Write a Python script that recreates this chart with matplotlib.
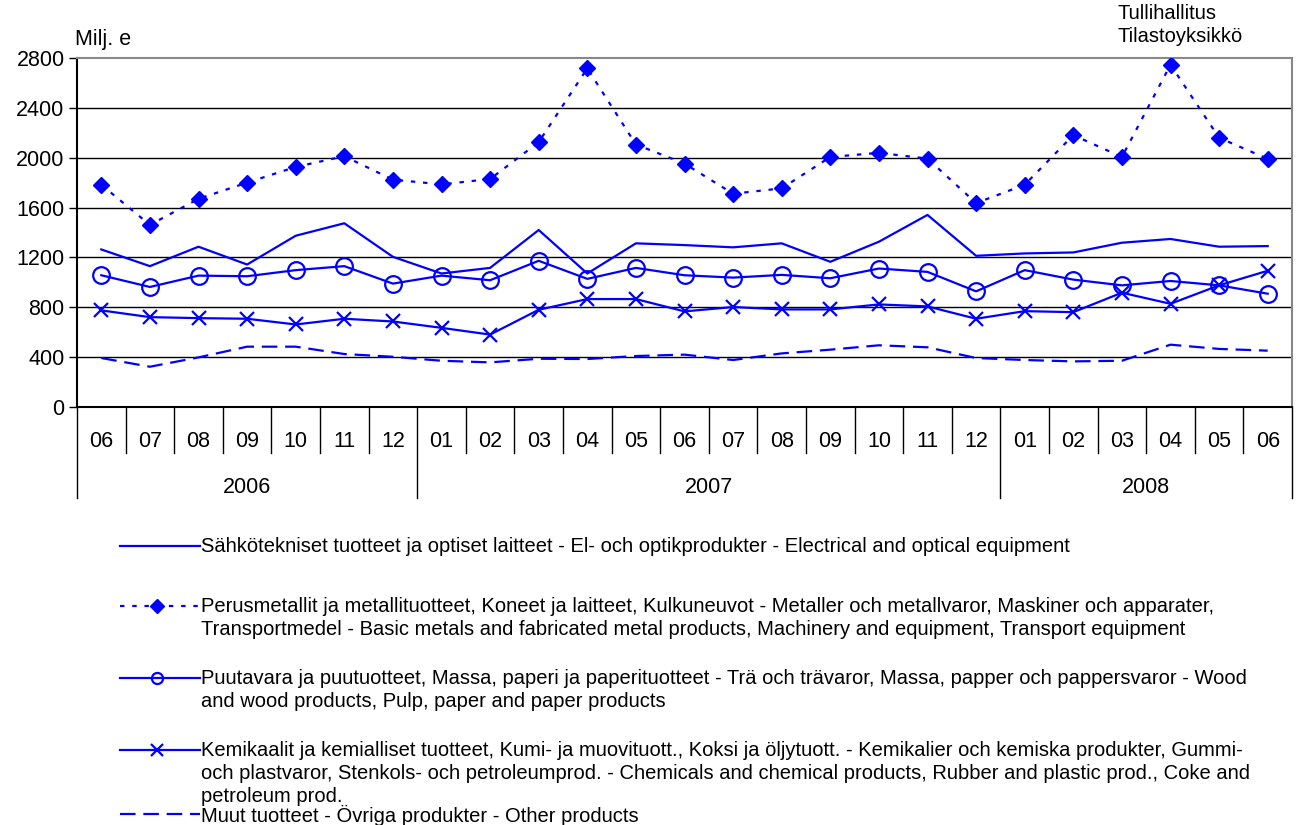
import matplotlib
matplotlib.use("Agg")
import matplotlib.pyplot as plt
from matplotlib.lines import Line2D

plt.rcParams['font.family'] = ['Liberation Sans', 'DejaVu Sans']

# data (Milj. e), monthly 2006-06 .. 2008-06
months = ['06', '07', '08', '09', '10', '11', '12',
          '01', '02', '03', '04', '05', '06', '07', '08', '09', '10', '11', '12',
          '01', '02', '03', '04', '05', '06']
years = ['2006', '2007', '2008']
year_len = [7, 12, 6]

electrical = [1264, 1130, 1286, 1143, 1374, 1474, 1205, 1071, 1116, 1420, 1071, 1313, 1299,
              1281, 1313, 1165, 1326, 1541, 1213, 1232, 1240, 1318, 1348, 1286, 1291]
metals = [1783, 1461, 1670, 1800, 1926, 2012, 1824, 1786, 1829, 2125, 2717, 2106, 1953,
          1711, 1754, 2006, 2039, 1993, 1636, 1783, 2181, 2006, 2746, 2160, 1991]
wood = [1057, 963, 1054, 1049, 1098, 1130, 990, 1054, 1017, 1173, 1028, 1116, 1057,
        1038, 1060, 1033, 1111, 1084, 928, 1098, 1022, 976, 1011, 976, 909]
chemicals = [775, 721, 713, 708, 662, 708, 686, 635, 581, 780, 866, 866, 767,
             802, 783, 783, 823, 807, 708, 769, 761, 917, 828, 976, 1093]
other = [393, 323, 398, 484, 484, 425, 403, 371, 358, 387, 385, 409, 420,
         377, 430, 460, 495, 479, 393, 377, 366, 371, 500, 466, 452]

labels = [
    "Sähkötekniset tuotteet ja optiset laitteet - El- och optikprodukter - Electrical and optical equipment",
    "Perusmetallit ja metallituotteet, Koneet ja laitteet, Kulkuneuvot - Metaller och metallvaror, Maskiner och apparater,\n"
    "Transportmedel - Basic metals and fabricated metal products, Machinery and equipment, Transport equipment",
    "Puutavara ja puutuotteet, Massa, paperi ja paperituotteet - Trä och trävaror, Massa, papper och pappersvaror - Wood\n"
    "and wood products, Pulp, paper and paper products",
    "Kemikaalit ja kemialliset tuotteet, Kumi- ja muovituott., Koksi ja öljytuott. - Kemikalier och kemiska produkter, Gummi-\n"
    "och plastvaror, Stenkols- och petroleumprod. - Chemicals and chemical products, Rubber and plastic prod., Coke and\n"
    "petroleum prod.",
    "Muut tuotteet - Övriga produkter - Other products",
]

W, H = 1296, 825
blue = '#0000FF'

fig = plt.figure(figsize=(W / 100, H / 100), dpi=100)
left, right, top, bottom = 77, 1292, 58, 407
ax = fig.add_axes([left / W, 1 - bottom / H, (right - left) / W, (bottom - top) / H])

x = list(range(len(months)))
styles = [
    dict(data=electrical, ls='-', marker=None),
    dict(data=metals, ls=(0, (2, 3.5)), marker='D', ms=8, mfc=blue),
    dict(data=wood, ls='-', marker='o', ms=12, mfc='none', mew=1.6),
    dict(data=chemicals, ls='-', marker='x', ms=10, mew=1.6),
    dict(data=other, ls=(0, (7, 3.5)), marker=None),
]
for s in styles:
    d = s.pop('data')
    ax.plot(x, d, color=blue, lw=1.6, linestyle=s.pop('ls'), zorder=3, **s)

ax.set_xlim(-0.5, len(months) - 0.5)
ax.set_ylim(0, 2800)
ax.set_yticks(range(0, 2801, 400))
ax.tick_params(axis='y', labelsize=15.5, length=6, width=1, direction='out', pad=3)
ax.set_xticks([])
for v in range(400, 2800, 400):
    ax.axhline(v, color='black', lw=1, zorder=1)
for sp in ['top', 'right']:
    ax.spines[sp].set_color('#888888')
    ax.spines[sp].set_linewidth(1.5)
for sp in ['left', 'bottom']:
    ax.spines[sp].set_color('black')
    ax.spines[sp].set_linewidth(1.5)

# category axis: months and year groups
ph = bottom - top
short_y = -(453 - bottom) / ph
long_y = -(498 - bottom) / ph
trans = ax.get_xaxis_transform()
for i, m in enumerate(months):
    ax.text(i, -(441 - bottom) / ph, m, transform=trans, ha='center', va='center', fontsize=15.5)
bounds = [0]
for n in year_len:
    bounds.append(bounds[-1] + n)
for i in range(len(months) + 1):
    ylow = long_y if i in bounds else short_y
    ax.plot([i - 0.5, i - 0.5], [0, ylow], transform=trans, color='black', lw=1, clip_on=False)
for k, yr in enumerate(years):
    xc = (bounds[k] + bounds[k + 1] - 1) / 2
    ax.text(xc, -(487 - bottom) / ph, yr, transform=trans, ha='center', va='center', fontsize=15.5)

fig.text(75 / W, 1 - 40 / H, 'Milj. e', ha='left', va='center', fontsize=15.5)
fig.text(1117 / W, 1 - 25 / H, 'Tullihallitus\nTilastoyksikkö', ha='left', va='center',
         fontsize=14.5, linespacing=1.3)

# legend drawn by hand to follow the original layout
lax = fig.add_axes([0, 0, 1, 1], zorder=-1)
lax.set_xlim(0, W)
lax.set_ylim(H, 0)
lax.axis('off')
leg_y = [546, 606, 678, 750, 814]
leg_styles = [
    dict(ls='-', marker=None),
    dict(ls=(0, (2, 3.5)), marker='D', ms=7, mfc=blue),
    dict(ls='-', marker='o', ms=8, mfc='none', mew=1.6),
    dict(ls='-', marker='x', ms=8, mew=1.6),
    dict(ls=(0, (7, 3.5)), marker=None),
]
for yy, st, lab in zip(leg_y, leg_styles, labels):
    st = dict(st)
    ls = st.pop('ls')
    lax.add_line(Line2D([120, 200], [yy, yy], color=blue, lw=1.6, linestyle=ls))
    if st.get('marker'):
        lax.add_line(Line2D([157], [yy], color=blue, linestyle='none', **st))
    lax.text(201, yy - 9, lab, ha='left', va='top', fontsize=14.5, linespacing=1.25)

fig.savefig('out.png', dpi=100)
